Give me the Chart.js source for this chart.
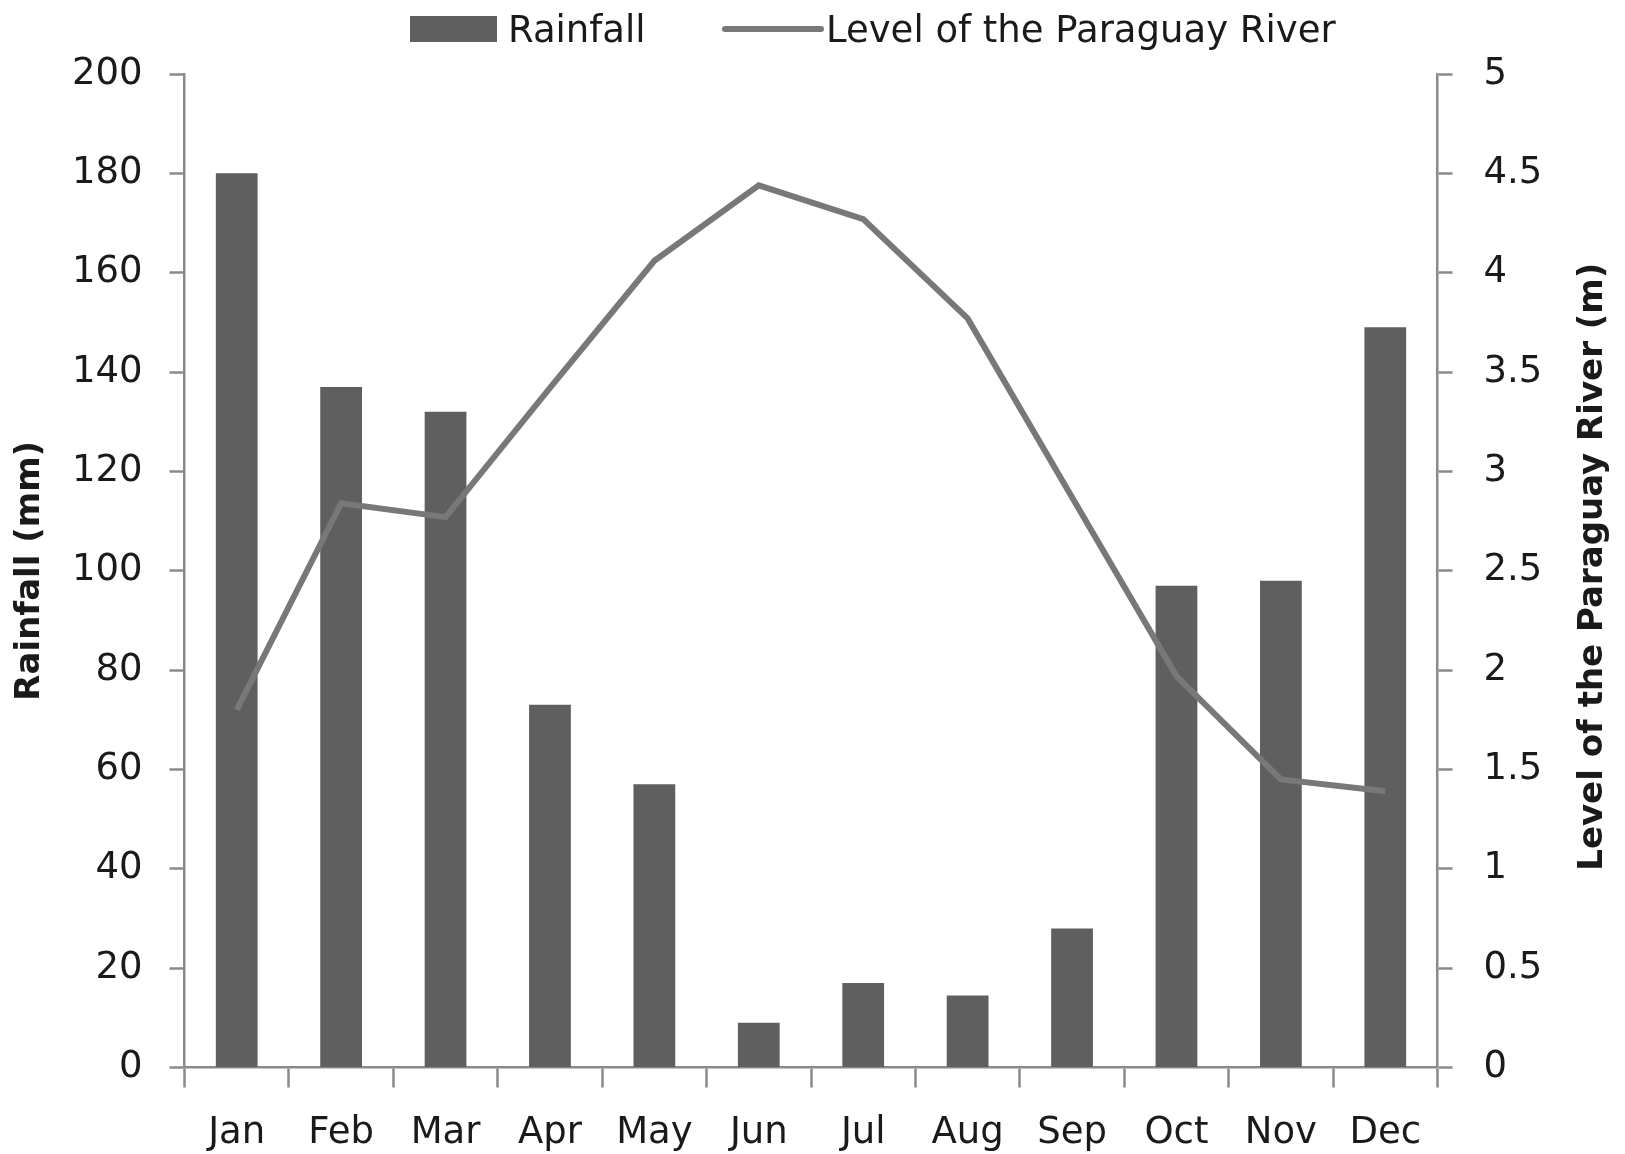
<!DOCTYPE html>
<html>
<head>
<meta charset="utf-8">
<script src="https://cdn.jsdelivr.net/npm/chart.js@4"></script>
<style>
  html, body { margin: 0; padding: 0; background: #fff; overflow: hidden; }
  #wrap { position: relative; width: 1625px; height: 1154px; }
  #legend { position: absolute; top: 0; left: 0; width: 1625px; height: 60px;
            font-family: "DejaVu Sans", sans-serif; font-size: 37px; color: #1a1a1a; }
  .item { position: absolute; top: 11px; height: 36px; display: flex; align-items: center; white-space: nowrap; }
  .swatch { margin-right: 11px; }
</style>
</head>
<body>
<div id="wrap">
  <canvas id="rainChart" width="1625" height="1154"></canvas>
  <div id="legend"></div>
</div>
<script>
// -------- Data --------
const months = ["Jan","Feb","Mar","Apr","May","Jun","Jul","Aug","Sep","Oct","Nov","Dec"];
const rainfall = [180, 137, 132, 73, 57, 9, 17, 14.5, 28, 97, 98, 149];
const riverLevel = [1.80, 2.84, 2.77, 3.42, 4.06, 4.44, 4.27, 3.77, 2.87, 1.97, 1.45, 1.39];

const rainLabel = "Rainfall";
const riverLabel = "Level of the Paraguay River";
const leftTitle = "Rainfall (mm)";
const rightTitle = "Level of the Paraguay River (m)";

const axisGray = "#8a8a8a";
const textColor = "#1a1a1a";
const tickFont = { family: "DejaVu Sans", size: 37 };

// right axis title reads bottom-to-top, Chart.js rotates it the other way
const rightTitlePlugin = {
    id: "rightTitle",
    afterDraw(chart){
        const ctx = chart.ctx;
        const a = chart.chartArea;
        ctx.save();
        ctx.translate(1593, (a.top + a.bottom) / 2 - 4);
        ctx.rotate(-Math.PI / 2);
        ctx.font = 'bold 34px "DejaVu Sans"';
        ctx.fillStyle = textColor;
        ctx.textAlign = "center";
        ctx.textBaseline = "middle";
        ctx.fillText(rightTitle, 0, 0);
        ctx.restore();
    }
};

const ctx = document.getElementById("rainChart").getContext("2d");

const chart = new Chart(ctx, {
    type: "bar",
    data: {
        labels: months,
        datasets: [{
            type: "bar",
            label: rainLabel,
            data: rainfall,
            backgroundColor: "#5f5f5f",
            borderWidth: 0,
            barPercentage: 0.4,
            categoryPercentage: 1.0,
            yAxisID: "y",
            order: 2
        }, {
            type: "line",
            label: riverLabel,
            data: riverLevel,
            borderColor: "#787878",
            backgroundColor: "#787878",
            borderWidth: 6,
            pointRadius: 0,
            tension: 0,
            yAxisID: "y1",
            order: 1
        }]
    },
    options: {
        responsive: false,
        animation: false,
        layout: { padding: { top: 74, left: 0, right: 0, bottom: 0 } },
        plugins: {
            legend: { display: false },
            tooltip: { enabled: false }
        },
        scales: {
            x: {
                afterFit(scale){ scale.height = 86.5; },
                grid: {
                    offset: true,
                    drawOnChartArea: false,
                    tickLength: 20,
                    tickColor: axisGray,
                    tickWidth: 2.5
                },
                border: { color: axisGray, width: 2.5 },
                ticks: { font: tickFont, color: textColor, padding: 24, maxRotation: 0 }
            },
            y: {
                position: "left",
                min: 0,
                max: 200,
                afterFit(scale){ scale.width = 184.5; },
                grid: {
                    drawOnChartArea: false,
                    tickLength: 15,
                    tickColor: axisGray,
                    tickWidth: 2.5
                },
                border: { color: axisGray, width: 2.5 },
                ticks: { stepSize: 20, font: tickFont, color: textColor, padding: 27 },
                title: {
                    display: true,
                    text: leftTitle,
                    font: { family: "DejaVu Sans", size: 34, weight: "bold" },
                    color: textColor,
                    padding: { top: 10, bottom: 0 }
                }
            },
            y1: {
                position: "right",
                min: 0,
                max: 5,
                afterFit(scale){ scale.width = 187.5; },
                grid: {
                    drawOnChartArea: false,
                    tickLength: 15,
                    tickColor: axisGray,
                    tickWidth: 2.5
                },
                border: { color: axisGray, width: 2.5 },
                ticks: {
                    stepSize: 0.5,
                    font: tickFont,
                    color: textColor,
                    padding: 31,
                    callback: function(v){ return String(Math.round(v * 10) / 10); }
                }
            }
        }
    },
    plugins: [rightTitlePlugin]
});

// -------- HTML legend built from the datasets --------
const legendLeft = [410, 722];
const legendEl = document.getElementById("legend");
chart.data.datasets.forEach(function(ds, i){
    let item = document.createElement("div");
    item.className = "item";
    item.style.left = legendLeft[i] + "px";

    let sw = document.createElement("span");
    sw.className = "swatch";
    if(ds.type === "bar"){
        sw.style.width = "87px";
        sw.style.height = "26px";
        sw.style.background = ds.backgroundColor;
    } else {
        sw.style.width = "102px";
        sw.style.height = "6px";
        sw.style.borderRadius = "3px";
        sw.style.background = ds.borderColor;
        sw.style.marginRight = "2px";
    }
    item.appendChild(sw);

    let txt = document.createElement("span");
    txt.innerText = ds.label;
    item.appendChild(txt);
    legendEl.appendChild(item);
});
</script>
</body>
</html>
